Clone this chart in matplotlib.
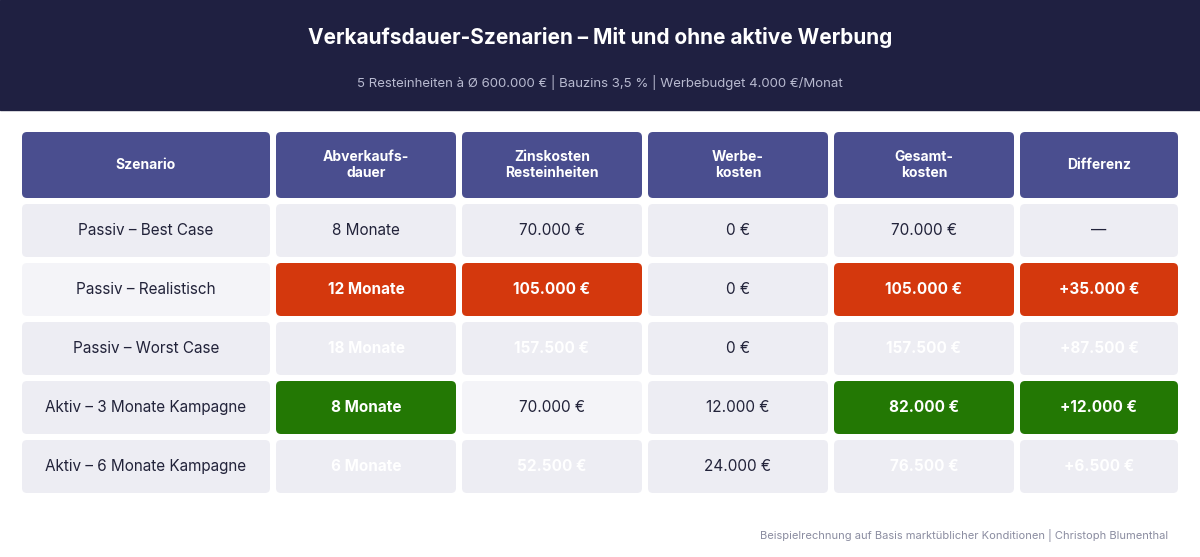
import matplotlib
matplotlib.use("Agg")
import matplotlib.pyplot as plt
from matplotlib.patches import FancyBboxPatch

plt.rcParams["font.family"] = ["Inter", "DejaVu Sans"]

TITLE = "Verkaufsdauer-Szenarien – Mit und ohne aktive Werbung"
SUBTITLE = "5 Resteinheiten à Ø 600.000 € | Bauzins 3,5 % | Werbebudget 4.000 €/Monat"
FOOTER = "Beispielrechnung auf Basis marktüblicher Konditionen | Christoph Blumenthal"

headers = ["Szenario", "Abverkaufs-\ndauer", "Zinskosten\nResteinheiten", "Werbe-\nkosten", "Gesamt-\nkosten", "Differenz"]
szenarien = ["Passiv – Best Case", "Passiv – Realistisch", "Passiv – Worst Case",
             "Aktiv – 3 Monate Kampagne", "Aktiv – 6 Monate Kampagne"]
dauer = ["8 Monate", "12 Monate", "18 Monate", "8 Monate", "6 Monate"]
zinskosten = ["70.000 €", "105.000 €", "157.500 €", "70.000 €", "52.500 €"]
werbekosten = ["0 €", "0 €", "0 €", "12.000 €", "24.000 €"]
gesamtkosten = ["70.000 €", "105.000 €", "157.500 €", "82.000 €", "76.500 €"]
differenz = ["—", "+35.000 €", "+87.500 €", "+12.000 €", "+6.500 €"]
# cell style per row/column: n = normal, r = red highlight, g = green highlight, w = white text on light
styles = [
    ["n", "n", "n", "n", "n", "n"],
    ["l", "r", "r", "n", "r", "r"],
    ["n", "w", "w", "n", "w", "w"],
    ["n", "g", "l", "n", "g", "g"],
    ["n", "w", "w", "n", "w", "w"],
]

col_x = [(22, 270), (276, 456), (462, 642), (648, 828), (834, 1014), (1020, 1178)]
header_y = (132, 198)
row_y0, row_h, row_gap = 204, 53, 6

fig = plt.figure(figsize=(12, 5.57), dpi=100)
ax = fig.add_axes([0, 0, 1, 1])
ax.set_xlim(0, 1200)
ax.set_ylim(557, 0)
ax.axis("off")
fig.patch.set_facecolor("white")

ax.add_patch(plt.Rectangle((0, 0), 1200, 110, color="#1f2041", zorder=0))
ax.text(600, 38, TITLE, color="white", fontsize=15, fontweight="bold", ha="center", va="center")
ax.text(600, 82, SUBTITLE, color="#b8bad0", fontsize=9.5, ha="center", va="center")


def cell(x0, x1, y0, y1, color):
    ax.add_patch(FancyBboxPatch((x0, y0), x1 - x0, y1 - y0,
                                boxstyle="round,pad=0,rounding_size=5",
                                facecolor=color, edgecolor="none"))


for (x0, x1), h in zip(col_x, headers):
    cell(x0, x1, *header_y, "#4a4e8f")
    ax.text((x0 + x1) / 2, sum(header_y) / 2, h, color="white", fontsize=10,
            fontweight="bold", ha="center", va="center", linespacing=1.2)

fills = {"n": "#ededf3", "l": "#f4f4f8", "w": "#ededf3", "r": "#d4380d", "g": "#237804"}
columns = [szenarien, dauer, zinskosten, werbekosten, gesamtkosten, differenz]
for i in range(len(szenarien)):
    y0 = row_y0 + i * (row_h + row_gap)
    for j, (x0, x1) in enumerate(col_x):
        s = styles[i][j]
        cell(x0, x1, y0, y0 + row_h, fills[s])
        bold = s in ("r", "g", "w")
        color = "white" if bold else "#22233a"
        ax.text((x0 + x1) / 2, y0 + row_h / 2, columns[j][i], color=color, fontsize=11,
                fontweight="bold" if bold else "normal", ha="center", va="center")

ax.text(1168, 535, FOOTER, color="#8a8ca0", fontsize=8, ha="right", va="center")

fig.savefig("out.png", dpi=100)
